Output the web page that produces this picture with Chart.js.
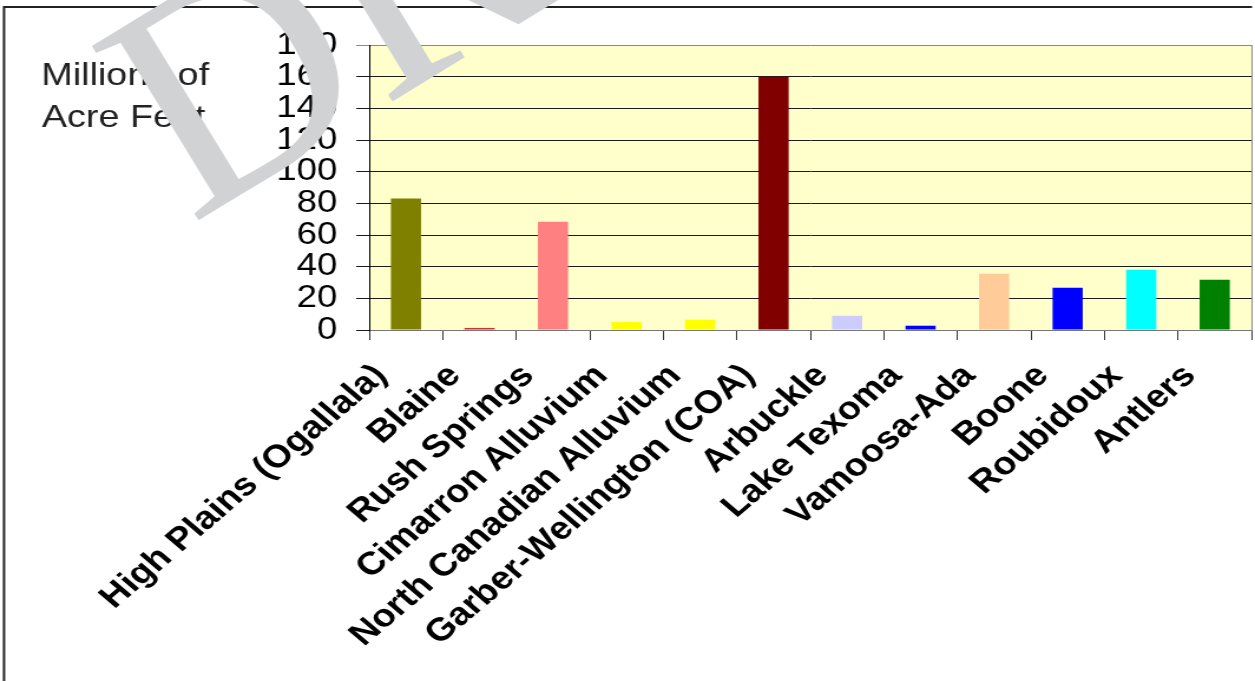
<!DOCTYPE html>
<html>
<head>
<meta charset="utf-8">
<script src="https://cdn.jsdelivr.net/npm/chart.js@4/dist/chart.umd.min.js"></script>
<style>
  html, body { margin: 0; padding: 0; background: #fff; }
</style>
</head>
<body>
<!-- the source chart's glyphs are wider than tall, so draw narrow and stretch -->
<canvas id="chart" width="1064" height="681" style="display:block;width:1255px;height:681px"></canvas>
<script>
const categories = [
  'High Plains (Ogallala)', 'Blaine', 'Rush Springs', 'Cimarron Alluvium',
  'North Canadian Alluvium', 'Garber-Wellington (COA)', 'Arbuckle', 'Lake Texoma',
  'Vamoosa-Ada', 'Boone', 'Roubidoux', 'Antlers'
]
const volumes = [83, 1.3, 68.4, 5, 6.5, 160, 9, 2.7, 35.5, 26.7, 38, 31.8]
const barColors = [
  '#808000', '#C8362E', '#FF8080', '#FFFF00', '#FFFF00', '#800000',
  '#CCCCFF', '#0000FF', '#FFCC99', '#0000FF', '#00FFFF', '#008000'
]
const yMax = 180
const yStep = 20
const unitLines = ['Millions of', 'Acre Feet']

const STRETCH = 1255 / 1064

const plotBg = {
  id: 'plotBg',
  beforeDraw(chart) {
    const { ctx, chartArea: a } = chart
    ctx.save()
    ctx.fillStyle = '#fff'
    ctx.fillRect(0, 0, chart.width, chart.height)
    ctx.fillStyle = '#FFFFCC'
    ctx.fillRect(a.left, a.top, a.right - a.left, a.bottom - a.top)
    // page frame
    ctx.strokeStyle = '#222'
    ctx.lineWidth = 2
    ctx.beginPath()
    ctx.moveTo(3.4, 682)
    ctx.lineTo(3.4, 7)
    ctx.lineTo(1061.5, 7)
    ctx.stroke()
    ctx.restore()
  },
  afterDatasetsDraw(chart) {
    const { ctx, chartArea: a } = chart
    ctx.save()
    ctx.strokeStyle = '#888'
    ctx.lineWidth = 1
    ctx.beginPath()
    ctx.moveTo(a.right + 0.5, a.top)
    ctx.lineTo(a.right + 0.5, a.bottom)
    ctx.stroke()
    ctx.restore()
  }
}

const unitLabel = {
  id: 'unitLabel',
  afterDraw(chart) {
    const ctx = chart.ctx
    ctx.save()
    ctx.fillStyle = '#222'
    ctx.font = '32px "Liberation Sans", Arial, sans-serif'
    ctx.textAlign = 'left'
    ctx.textBaseline = 'alphabetic'
    ctx.fillText(unitLines[0], 35, 85)
    ctx.fillText(unitLines[1], 35.5, 127)
    ctx.restore()
  }
}

// "DRAFT" stamp over the page, not stretched like the chart
const watermark = {
  id: 'watermark',
  afterDraw(chart) {
    const ctx = chart.ctx
    ctx.save()
    ctx.scale(1 / STRETCH, 1)
    ctx.translate(191, 225)
    ctx.rotate(-31.5 * Math.PI / 180)
    ctx.fillStyle = '#D1D2D4'
    ctx.font = '312px "Liberation Serif", "Times New Roman", serif'
    ctx.textAlign = 'left'
    ctx.textBaseline = 'alphabetic'
    ctx.fillText('DRAFT', 0, 0)
    ctx.restore()
  }
}

new Chart(document.getElementById('chart'), {
  type: 'bar',
  data: {
    labels: categories,
    datasets: [{
      data: volumes,
      backgroundColor: barColors,
      borderWidth: 0,
      categoryPercentage: 1,
      barPercentage: 0.41
    }]
  },
  options: {
    responsive: false,
    devicePixelRatio: 1,
    animation: false,
    layout: { padding: { left: 0, right: 3, top: 45, bottom: 0 } },
    plugins: {
      legend: { display: false },
      tooltip: { enabled: false }
    },
    scales: {
      x: {
        afterFit(scale) {
          scale.height = 351
          scale.paddingLeft = 0
          scale.paddingRight = 0
        },
        grid: {
          offset: true,
          drawOnChartArea: false,
          tickLength: 10,
          color: '#333'
        },
        border: { color: '#777', width: 1 },
        ticks: {
          autoSkip: false,
          minRotation: 45,
          maxRotation: 45,
          padding: 17,
          labelOffset: -21,
          color: '#000',
          font: { family: '"Liberation Sans", Arial, sans-serif', size: 32, weight: 'bold' }
        }
      },
      y: {
        min: 0,
        max: yMax,
        afterFit(scale) { scale.width = 313 },
        grid: {
          tickLength: 11,
          color: (c) => (c.tick && c.tick.value === yMax ? '#888' : '#1a1a1a')
        },
        border: { color: '#000', width: 1 },
        ticks: {
          stepSize: yStep,
          autoSkip: false,
          padding: 16,
          color: '#000',
          font: { family: '"Liberation Sans", Arial, sans-serif', size: 31 }
        }
      }
    }
  },
  plugins: [plotBg, unitLabel, watermark]
})
</script>
</body>
</html>
